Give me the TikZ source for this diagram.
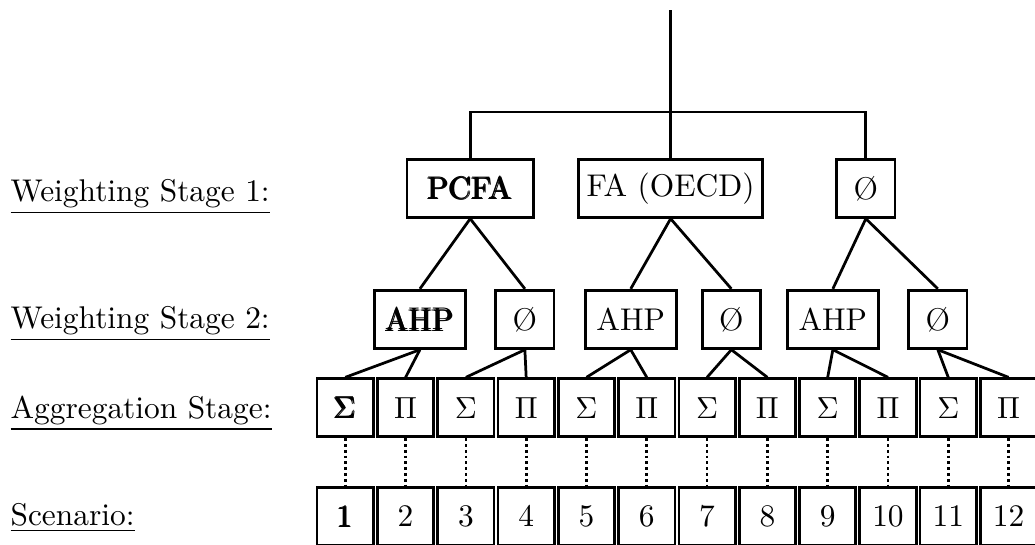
\documentclass[tikz,border=0pt]{standalone}
\usepackage{amsmath}
\usepackage{amssymb}
\usepackage{tikz}

\begin{document}
\begin{tikzpicture}[
    font=\fontsize{10.3}{12.4}\selectfont,
    box/.style={draw, line width=0.9pt, minimum height=0.67cm, inner sep=2pt},
    opbox/.style={draw, line width=0.9pt, minimum width=0.65cm, minimum height=0.67cm, inner sep=1pt},
    stagelabel/.style={anchor=base west, inner sep=0pt}
]

\useasboundingbox (0,0) rectangle (11.93,-6.28);

% Stage labels
\node[stagelabel] (lab1) at (0.115,-2.32) {\underline{Weighting Stage 1:}};
\node[stagelabel] (lab2) at (0.115,-3.79) {\underline{Weighting Stage 2:}};
\node[stagelabel] (lab3) at (0.115,-4.82) {\underline{Aggregation Stage:}};
\node[stagelabel] (lab4) at (0.115,-6.06) {\underline{Scenario:}};

% Weighting stage 1
\node[box, minimum width=1.46cm] (pcfa) at (5.42,-2.17) {\pmb{PCFA}};
\node[box, minimum width=2.12cm] (fa) at (7.73,-2.17) {FA (OECD)};
\node[box, minimum width=0.67cm] (none1) at (9.98,-2.17) {\O};

% Root
\coordinate (top) at (7.73,-0.12);
\coordinate (bar) at (7.73,-1.29);
\draw[line width=0.9pt] (top) -- (fa.north);
\draw[line width=0.9pt] (pcfa.north) |- (bar) -| (none1.north);

% Weighting stage 2
\node[box, minimum width=1.05cm] (ahp1) at (4.84,-3.68) {\pmb{AHP}};
\node[box, minimum width=0.67cm] (none2) at (6.05,-3.68) {\O};
\node[box, minimum width=1.05cm] (ahp2) at (7.27,-3.68) {AHP};
\node[box, minimum width=0.67cm] (none3) at (8.43,-3.68) {\O};
\node[box, minimum width=1.05cm] (ahp3) at (9.60,-3.68) {AHP};
\node[box, minimum width=0.67cm] (none4) at (10.81,-3.68) {\O};

\draw[line width=0.9pt] (pcfa.south) -- (ahp1.north);
\draw[line width=0.9pt] (pcfa.south) -- (none2.north);
\draw[line width=0.9pt] (fa.south) -- (ahp2.north);
\draw[line width=0.9pt] (fa.south) -- (none3.north);
\draw[line width=0.9pt] (none1.south) -- (ahp3.north);
\draw[line width=0.9pt] (none1.south) -- (none4.north);

% Aggregation stage and scenarios
\foreach \i/\op/\num in {1/{\pmb{$\Sigma$}}/{\pmb{1}}, 2/{$\Pi$}/2, 3/{$\Sigma$}/3,
    4/{$\Pi$}/4, 5/{$\Sigma$}/5, 6/{$\Pi$}/6, 7/{$\Sigma$}/7, 8/{$\Pi$}/8,
    9/{$\Sigma$}/9, 10/{$\Pi$}/10, 11/{$\Sigma$}/11, 12/{$\Pi$}/12} {
  \pgfmathsetmacro{\xx}{3.98+0.695*(\i-1)}
  \node[opbox] (agg\i) at (\xx,-4.70) {\op};
  \node[opbox] (sc\i) at (\xx,-5.95) {\num};
  \draw[line width=0.9pt, densely dotted] (agg\i.south) -- (sc\i.north);
}

\foreach \p/\a/\b in {ahp1/1/2, none2/3/4, ahp2/5/6, none3/7/8, ahp3/9/10, none4/11/12} {
  \draw[line width=0.9pt] (\p.south) -- (agg\a.north);
  \draw[line width=0.9pt] (\p.south) -- (agg\b.north);
}

\end{tikzpicture}
\end{document}
